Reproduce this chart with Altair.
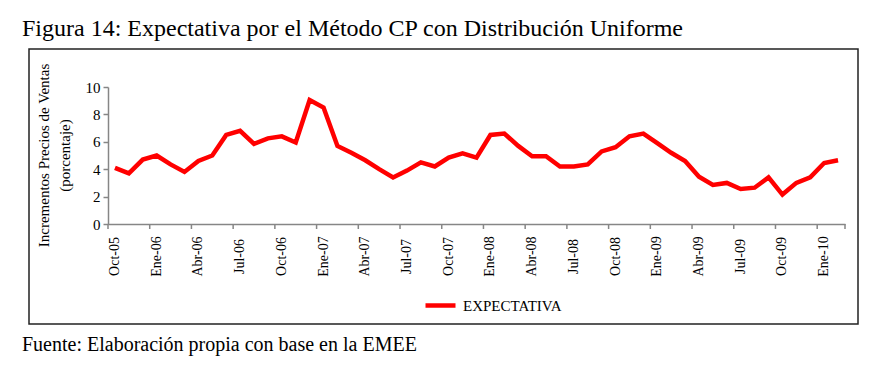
import altair as alt
import pandas as pd

# ---- data ----
meses = [
    "Oct-05", "Nov-05", "Dic-05",
    "Ene-06", "Feb-06", "Mar-06", "Abr-06", "May-06", "Jun-06",
    "Jul-06", "Ago-06", "Sep-06", "Oct-06", "Nov-06", "Dic-06",
    "Ene-07", "Feb-07", "Mar-07", "Abr-07", "May-07", "Jun-07",
    "Jul-07", "Ago-07", "Sep-07", "Oct-07", "Nov-07", "Dic-07",
    "Ene-08", "Feb-08", "Mar-08", "Abr-08", "May-08", "Jun-08",
    "Jul-08", "Ago-08", "Sep-08", "Oct-08", "Nov-08", "Dic-08",
    "Ene-09", "Feb-09", "Mar-09", "Abr-09", "May-09", "Jun-09",
    "Jul-09", "Ago-09", "Sep-09", "Oct-09", "Nov-09", "Dic-09",
    "Ene-10", "Feb-10",
]
expectativa = [
    4.1, 3.7, 4.7,
    5.0, 4.35, 3.8, 4.6, 5.0, 6.5,
    6.8, 5.85, 6.25, 6.4, 5.95, 9.05,
    8.5, 5.7, 5.2, 4.65, 4.0, 3.4,
    3.9, 4.5, 4.2, 4.85, 5.15, 4.85,
    6.5, 6.6, 5.7, 4.95, 4.95, 4.2,
    4.2, 4.35, 5.3, 5.6, 6.4, 6.6,
    5.9, 5.2, 4.6, 3.45, 2.85, 3.0,
    2.55, 2.65, 3.4, 2.15, 3.0, 3.4,
    4.45, 4.65,
]
etiquetas_x = meses[::3]
ticks_y = [0, 2, 4, 6, 8, 10]
serie = "EXPECTATIVA"
titulo = "Figura 14: Expectativa por el Método CP con Distribución Uniforme"
fuente = "Fuente: Elaboración propia con base en la EMEE"
titulo_y = ["Incrementos Precios de Ventas", "(porcentaje)"]

FONT = "Liberation Serif"
GRAY = "#868686"

df = pd.DataFrame({"mes": meses, "valor": expectativa, "serie": serie})
df_ticks = pd.DataFrame({"mes": etiquetas_x})
df_end = pd.DataFrame({"mes": [meses[-1]]})
df_titulo = pd.DataFrame({"t": [titulo]})
df_fuente = pd.DataFrame({"t": [fuente]})
df_box = pd.DataFrame({"k": [0]})

W, H = 737, 137

xscale = alt.Scale(type="band", domain=meses, paddingInner=0, paddingOuter=0)
xaxis = alt.Axis(
    title=None, values=etiquetas_x, ticks=False, tickSize=0,
    labelAngle=270, labelAlign="center", labelBaseline="middle",
    labelPadding=32, labelFont=FONT, labelFontSize=14,
    labelColor="black", domainColor=GRAY, domainWidth=1.5,
    labelOverlap=False, grid=False,
)

box = alt.Chart(df_box).mark_rect(
    fillOpacity=0, stroke="#222222", strokeWidth=1.5
).encode(
    x=alt.value(-79), x2=alt.value(750), y=alt.value(-38), y2=alt.value(237)
)

line = alt.Chart(df).mark_line(strokeWidth=4.5).encode(
    x=alt.X("mes:O", scale=xscale, sort=meses, axis=xaxis),
    y=alt.Y(
        "valor:Q",
        scale=alt.Scale(domain=[0, 10], nice=False, zero=True),
        axis=alt.Axis(
            values=ticks_y, title=titulo_y, titleFont=FONT, titleFontSize=15,
            titleFontWeight="normal", titleColor="black", titleAngle=270,
            titleAlign="center", titleBaseline="middle", titleX=-65, titleY=68,
            titleLineHeight=21, labelFont=FONT, labelFontSize=15,
            labelColor="black", labelPadding=3, tickSize=5, tickColor=GRAY,
            domainColor=GRAY, domainWidth=1.5, tickWidth=1.5, grid=False,
        ),
    ),
    color=alt.Color(
        "serie:N",
        scale=alt.Scale(domain=[serie], range=["#ff0000"]),
        legend=alt.Legend(
            title=None, orient="none", legendX=315, legendY=201,
            symbolType="stroke", symbolSize=900, symbolStrokeWidth=4.5,
            labelFont=FONT, labelFontSize=15, labelColor="black",
            labelOffset=5, padding=0,
        ),
    ),
)

tick_rules = alt.Chart(df_ticks).mark_rule(color=GRAY, strokeWidth=1.5).encode(
    x=alt.X("mes:O", scale=xscale, sort=meses, bandPosition=0, axis=xaxis),
    y=alt.value(H), y2=alt.value(H + 5),
)
end_rule = alt.Chart(df_end).mark_rule(color=GRAY, strokeWidth=1.5).encode(
    x=alt.X("mes:O", scale=xscale, sort=meses, bandPosition=1, axis=xaxis),
    y=alt.value(H), y2=alt.value(H + 5),
)

title_txt = alt.Chart(df_titulo).mark_text(
    align="left", baseline="alphabetic", font=FONT, fontSize=24, color="black"
).encode(text="t:N", x=alt.value(-86), y=alt.value(-51))

fuente_txt = alt.Chart(df_fuente).mark_text(
    align="left", baseline="alphabetic", font=FONT, fontSize=20, color="black"
).encode(text="t:N", x=alt.value(-86), y=alt.value(264))

chart = alt.layer(line, box, tick_rules, end_rule, title_txt, fuente_txt).properties(
    width=W, height=H,
    autosize=alt.AutoSizeParams(type="none"),
    padding={"left": 108, "top": 87, "right": 891 - 108 - W, "bottom": 376 - 87 - H},
    background="white",
).configure_view(stroke=None)

chart.save("out.html", embed_options={"renderer": "svg", "actions": False})
